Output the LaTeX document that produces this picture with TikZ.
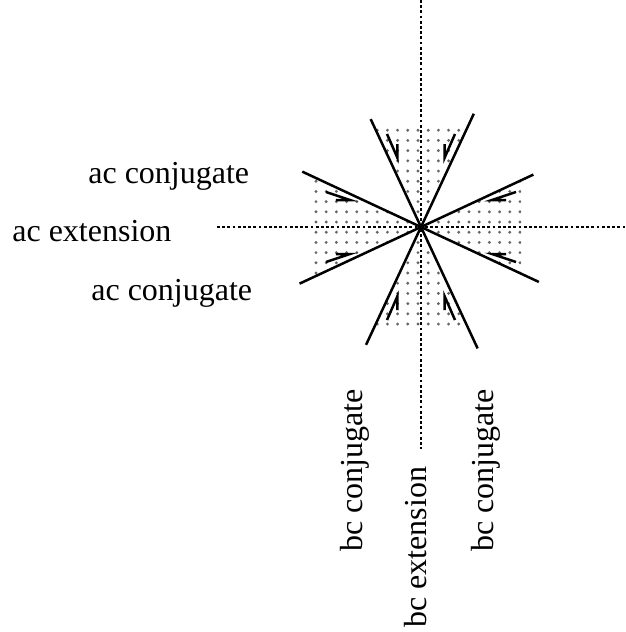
\documentclass[tikz,border=0pt]{standalone}
\usepackage{fontspec}
\setmainfont{Liberation Serif}
\begin{document}
\begin{tikzpicture}[x=0.5pt,y=0.5pt,
  wedgeline/.style={line width=1.25pt, black},
  axisline/.style={line width=1.4pt, black, dash pattern=on 1.4pt off 1.2pt},
  harpoon/.style={line width=1.25pt, black, line join=miter, miter limit=20},
  lbl/.style={inner sep=0pt, font=\fontsize{16pt}{19pt}\selectfont}]
\useasboundingbox (-421,-405) rectangle (205,227);

\coordinate (C) at (0,0);

% dotted shading inside the four wedges, trimmed to a square window
\begin{scope}
  \clip (-108,-104) rectangle (100,101);
  \clip (C) -- (65:220) -- (115:220) -- cycle
        (C) -- (245:220) -- (295:220) -- cycle
        (C) -- (155:220) -- (205:220) -- cycle
        (C) -- (-25:220) -- (25:220) -- cycle;
  \foreach \i in {-11,...,11}
    \foreach \j in {-11,...,11}
      \fill[black!60] ({\i*10.2-3},{\j*10.2+5}) circle (1.6);
\end{scope}

% dotted axes
\coordinate (hL) at (-204,0);
\coordinate (hR) at (205,0);
\coordinate (vT) at (0,227);
\coordinate (vB) at (0,-222);
\draw[axisline] (hL) -- (hR);
\draw[axisline] (vT) -- (vB);

% the four lines through the centre
\coordinate (a1) at (115:119);
\coordinate (b1) at (-65:134);
\coordinate (a2) at (65:125);
\coordinate (b2) at (245:130);
\coordinate (a3) at (155:131);
\coordinate (b3) at (-25:130);
\coordinate (a4) at (205:134);
\coordinate (b4) at (25:124);
\draw[wedgeline] (a1) -- (b1);
\draw[wedgeline] (a2) -- (b2);
\draw[wedgeline] (a3) -- (b3);
\draw[wedgeline] (a4) -- (b4);
\fill (C) circle (3);

% half arrows pointing towards the centre
% upper and lower wedges
\foreach \s in {1,-1} {
  \draw[harpoon] (-34,{93*\s}) -- (-23.5,{69*\s}) -- (-23.5,{83*\s});
  \draw[harpoon] (34,{93*\s}) -- (23.5,{69*\s}) -- (23.5,{83*\s});
}
% left and right wedges
\foreach \s in {1,-1} {
  \draw[harpoon] ({-95*\s},35) -- ({-71*\s},27) -- ({-85*\s},27);
  \draw[harpoon] ({-95*\s},-35) -- ({-71*\s},-27) -- ({-85*\s},-27);
}

% labels
\node[lbl, anchor=base west] (acu) at (-333,44) {ac conjugate};
\node[lbl, anchor=base west] (ace) at (-409,-14) {ac extension};
\node[lbl, anchor=base west] (acl) at (-330,-73) {ac conjugate};
\node[lbl, anchor=base west, rotate=90] (bcl) at (-58,-325) {bc conjugate};
\node[lbl, anchor=base west, rotate=90] (bce) at (6,-401) {bc extension};
\node[lbl, anchor=base west, rotate=90] (bcr) at (72,-325) {bc conjugate};
\end{tikzpicture}
\end{document}
